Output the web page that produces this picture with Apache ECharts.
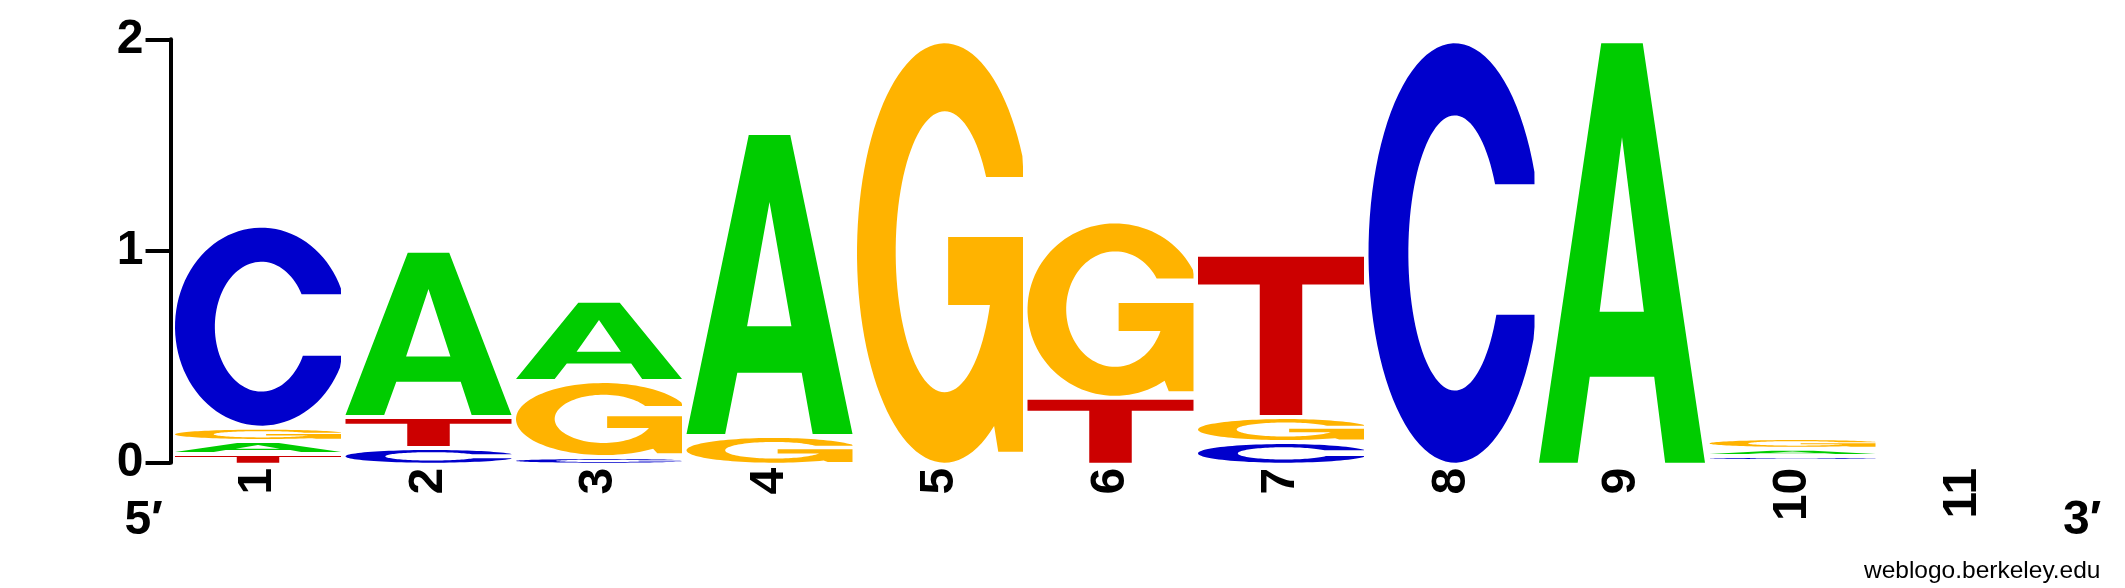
<!DOCTYPE html>
<html>
<head>
<meta charset="utf-8">
<title>Sequence logo</title>
<script src="https://cdn.jsdelivr.net/npm/echarts@6.0.0/dist/echarts.min.js"></script>
<style>
  html, body { margin: 0; padding: 0; background: #fff; }
  #chart { width: 2125px; height: 588px; }
</style>
</head>
<body>
<div id="chart"></div>
<script>
// ------------------------------------------------------------
// data: information (bits) carried by each base at each position
// ------------------------------------------------------------
var POSITIONS = ['1', '2', '3', '4', '5', '6', '7', '8', '9', '10', '11'];
var LETTERS = ['A', 'C', 'G', 'T'];
var BITS_A = [0.061, 0.786, 0.379, 1.431, 0,    0,     0,     0,    2.0, 0.034, 0];
var BITS_C = [0.954, 0.079, 0.036, 0,     0,    0,     0.107, 2.0,  0,   0.024, 0];
var BITS_G = [0.063, 0,     0.359, 0.136, 2.0,  0.833, 0.118, 0,    0,   0.051, 0];
var BITS_T = [0.051, 0.146, 0,     0,     0,    0.316, 0.767, 0,    0,   0.017, 0];
var Y_TICKS = [0, 1, 2];

var COLORS = { A: '#00CC00', C: '#0000CC', G: '#FFB300', T: '#CC0000' };
var FONT = '"Liberation Sans", Arial, Helvetica, sans-serif';
var GAP = 4; // px left empty above each letter

// ------------------------------------------------------------
// glyph outlines in a unit box (u to the right, v downwards)
// ------------------------------------------------------------
function arc(cx, cy, rx, ry, a0, a1, n) {
  var pts = [];
  for (var i = 0; i <= n; i++) {
    var a = (a0 + (a1 - a0) * i / n) * Math.PI / 180;
    pts.push([Math.min(1, cx + rx * Math.cos(a)), cy - ry * Math.sin(a)]);
  }
  return pts;
}
function angAt(cy, ry, v) {
  return Math.asin((cy - v) / ry) * 180 / Math.PI;
}

var GLYPHS = {
  A: [
    [[0, 1], [0.375, 0], [0.625, 0], [1, 1], [0.76, 1], [0.694, 0.795], [0.306, 0.795], [0.233, 1]],
    [[0.365, 0.64], [0.632, 0.64], [0.5, 0.224]]
  ],
  C: [
    arc(0.52, 0.5, 0.52, 0.5, angAt(0.5, 0.5, 0.336), 360 + angAt(0.5, 0.5, 0.647), 90)
      .concat(arc(0.52, 0.5, 0.28, 0.328, 360 + angAt(0.5, 0.328, 0.647), angAt(0.5, 0.328, 0.336), 90))
  ],
  G: [
    arc(0.528, 0.5, 0.528, 0.5, angAt(0.5, 0.5, 0.319), 360 - Math.acos((0.826 - 0.528) / 0.528) * 180 / Math.PI, 90)
      .concat([[0.851, 0.974], [1, 0.974], [1, 0.462], [0.549, 0.462], [0.549, 0.624]])
      .concat(arc(0.528, 0.497, 0.295, 0.335, angAt(0.497, 0.335, 0.624), angAt(0.497, 0.335, 0.319) - 360, 90))
  ],
  T: [
    [[0, 0], [1, 0], [1, 0.175], [0.628, 0.175], [0.628, 1], [0.372, 1], [0.372, 0.175], [0, 0.175]]
  ]
};

// ------------------------------------------------------------
// stack letters per column, smallest at the bottom
// ------------------------------------------------------------
var BITS = { A: BITS_A, C: BITS_C, G: BITS_G, T: BITS_T };
var stackData = [];
POSITIONS.forEach(function (p, i) {
  var column = LETTERS.map(function (l, k) { return { k: k, v: BITS[l][i] }; })
    .filter(function (e) { return e.v > 0; })
    .sort(function (a, b) { return a.v - b.v; });
  var acc = 0;
  column.forEach(function (e) {
    stackData.push([i, acc, acc + e.v, e.k]);
    acc += e.v;
  });
});

function renderLetter(params, api) {
  var pos = api.value(0);
  var letter = LETTERS[api.value(3)];
  var base = api.coord([pos, api.value(1)]);
  var top = api.coord([pos, api.value(2)]);
  var w = api.size([1, 0])[0] - 4.5;
  var x0 = base[0] - w / 2;
  var y0 = top[1] + GAP;
  var h = base[1] - y0;
  if (h <= 0.3) return null;
  var d = GLYPHS[letter].map(function (contour) {
    return contour.map(function (pt, i) {
      return (i ? 'L' : 'M') + (x0 + pt[0] * w).toFixed(2) + ' ' + (y0 + pt[1] * h).toFixed(2);
    }).join(' ') + ' Z';
  }).join(' ');
  return { type: 'path', shape: { pathData: d }, style: { fill: COLORS[letter] } };
}

function cornerText(text, x, y, size, weight, align) {
  return {
    type: 'text', x: x, y: y,
    style: {
      text: text, fill: '#000',
      font: weight + ' ' + size + 'px ' + FONT,
      textAlign: align, align: align,
      textVerticalAlign: 'middle', verticalAlign: 'middle'
    }
  };
}

var chart = echarts.init(document.getElementById('chart'), null, { renderer: 'canvas' });
chart.setOption({
  backgroundColor: '#fff',
  animation: false,
  grid: { left: 172.75, right: 76.75, top: 39.3, bottom: 125.3, containLabel: false },
  xAxis: {
    type: 'category',
    data: POSITIONS,
    boundaryGap: true,
    axisLine: { show: false },
    axisTick: { show: false },
    splitLine: { show: false },
    axisLabel: {
      rotate: 90, margin: 5, interval: 0,
      fontSize: 48, fontWeight: 'bold', fontFamily: FONT, color: '#000'
    }
  },
  yAxis: {
    type: 'value',
    min: Y_TICKS[0],
    max: Y_TICKS[Y_TICKS.length - 1],
    interval: Y_TICKS[1] - Y_TICKS[0],
    offset: 2.2,
    axisLine: { show: true, lineStyle: { color: '#000', width: 4 } },
    axisTick: { show: true, length: 25, lineStyle: { color: '#000', width: 4 } },
    splitLine: { show: false },
    axisLabel: {
      margin: 27,
      fontSize: 48, fontWeight: 'bold', fontFamily: FONT, color: '#000'
    }
  },
  series: [{
    type: 'custom',
    renderItem: renderLetter,
    data: stackData,
    encode: { x: 0, y: [1, 2] }
  }],
  graphic: [
    cornerText('5\u2032', 124.5, 521, 48, 'bold', 'left'),
    cornerText('3\u2032', 2063, 521, 48, 'bold', 'left'),
    cornerText('weblogo.berkeley.edu', 2100.5, 571.5, 24.5, 'normal', 'right')
  ]
});
</script>
</body>
</html>
